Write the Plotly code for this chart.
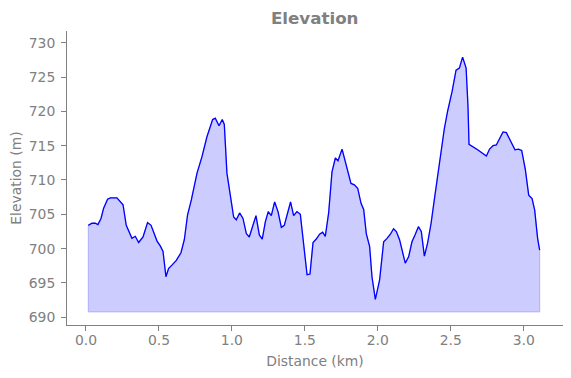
import plotly.graph_objects as go

distance_km = [0.016, 0.041, 0.064, 0.082, 0.103, 0.121, 0.148, 0.167, 0.212, 0.254,
               0.276, 0.315, 0.338, 0.361, 0.391, 0.422, 0.446, 0.487, 0.509, 0.528,
               0.548, 0.566, 0.589, 0.619, 0.651, 0.674, 0.696, 0.722, 0.761, 0.795,
               0.829, 0.868, 0.886, 0.912, 0.934, 0.948, 0.966, 0.989, 1.012, 1.030,
               1.053, 1.076, 1.099, 1.119, 1.142, 1.165, 1.188, 1.208, 1.229, 1.249,
               1.270, 1.293, 1.316, 1.339, 1.359, 1.382, 1.402, 1.423, 1.446, 1.469,
               1.487, 1.515, 1.535, 1.556, 1.578, 1.601, 1.622, 1.640, 1.663, 1.686,
               1.709, 1.727, 1.755, 1.784, 1.816, 1.839, 1.862, 1.885, 1.903, 1.921,
               1.944, 1.960, 1.983, 2.012, 2.040, 2.063, 2.086, 2.108, 2.127, 2.149,
               2.166, 2.188, 2.211, 2.234, 2.257, 2.278, 2.298, 2.319, 2.341, 2.365,
               2.387, 2.410, 2.433, 2.456, 2.478, 2.509, 2.536, 2.559, 2.581, 2.605,
               2.618, 2.625, 2.684, 2.744, 2.766, 2.790, 2.812, 2.835, 2.858, 2.881,
               2.908, 2.940, 2.963, 2.986, 3.011, 3.034, 3.057, 3.075, 3.095, 3.109]

elevation_m = [703.4, 703.7, 703.7, 703.5, 704.4, 705.9, 707.2, 707.4, 707.4, 706.4,
               703.4, 701.5, 701.8, 700.9, 701.7, 703.8, 703.4, 701.1, 700.4, 699.6,
               695.9, 697.1, 697.6, 698.3, 699.4, 701.3, 704.9, 707.1, 711.0, 713.4,
               716.3, 718.8, 719.0, 717.9, 718.8, 718.1, 711.0, 708.1, 704.6, 704.2,
               705.2, 704.4, 702.2, 701.7, 703.2, 704.8, 702.0, 701.4, 703.9, 705.4,
               704.8, 706.8, 705.4, 703.1, 703.4, 705.4, 706.8, 704.8, 705.4, 705.0,
               701.7, 696.2, 696.3, 700.9, 701.4, 702.1, 702.4, 701.8, 705.2, 711.2,
               713.2, 712.8, 714.5, 712.2, 709.5, 709.3, 708.8, 706.6, 705.7, 702.2,
               700.3, 695.9, 692.6, 695.4, 701.0, 701.5, 702.1, 702.9, 702.5, 701.3,
               699.6, 697.9, 698.8, 701.0, 702.1, 703.2, 702.5, 698.9, 700.8, 703.7,
               707.1, 710.7, 714.4, 717.5, 720.0, 722.9, 726.0, 726.3, 727.9, 726.3,
               720.7, 715.2, 714.4, 713.5, 714.5, 715.0, 715.1, 716.1, 717.0, 716.9,
               715.7, 714.4, 714.5, 714.3, 711.5, 707.8, 707.3, 705.6, 701.5, 699.8]

fill_base_m = 690.8
x_ticks = [0.0, 0.5, 1.0, 1.5, 2.0, 2.5, 3.0]
y_ticks = [690, 695, 700, 705, 710, 715, 720, 725, 730]

GREY = "#808080"
FONT = "DejaVu Sans"

# page body has an 8px default margin, so the figure is sized and offset to compensate
W, H = 563, 370

poly_x = distance_km + [distance_km[-1], distance_km[0], distance_km[0]]
poly_y = elevation_m + [fill_base_m, fill_base_m, elevation_m[0]]

fig = go.Figure()
fig.add_trace(go.Scatter(
    x=poly_x, y=poly_y, mode="lines", fill="toself",
    fillcolor="rgba(0,0,255,0.2)",
    line=dict(color="rgba(0,0,255,0.2)", width=1.2),
    hoverinfo="skip", showlegend=False,
))
fig.add_trace(go.Scatter(
    x=distance_km, y=elevation_m, mode="lines",
    line=dict(color="#0000ff", width=1.3),
    showlegend=False,
))

axis_common = dict(
    showline=True, linecolor=GREY, linewidth=1.1,
    ticks="outside", tickcolor=GREY, ticklen=4.9, tickwidth=1.1,
    showgrid=False, zeroline=False, mirror=False,
    tickfont=dict(family=FONT, size=13.9, color=GREY),
)

fig.update_layout(
    width=W, height=H,
    margin=dict(l=58.7, r=8.3, t=23, b=53),
    paper_bgcolor="white", plot_bgcolor="white",
    font=dict(family=FONT, color=GREY),
    title=dict(text="<b>Elevation</b>", x=306.7 / W, xanchor="center",
               y=1 - 10 / H, yanchor="middle",
               font=dict(family=FONT, size=16.7, color=GREY)),
    xaxis=dict(range=[-0.130, 3.269], tickvals=x_ticks, tickformat=".1f",
               ticklabelstandoff=-3,
               title=dict(text="Distance (km)", standoff=9,
                          font=dict(family=FONT, size=13.9, color=GREY)),
               **axis_common),
    yaxis=dict(range=[688.88, 731.70], tickvals=y_ticks, ticklabelstandoff=3,
               title=dict(text="Elevation (m)", standoff=4,
                          font=dict(family=FONT, size=13.9, color=GREY)),
               **axis_common),
)

fig.write_html("out.html")
